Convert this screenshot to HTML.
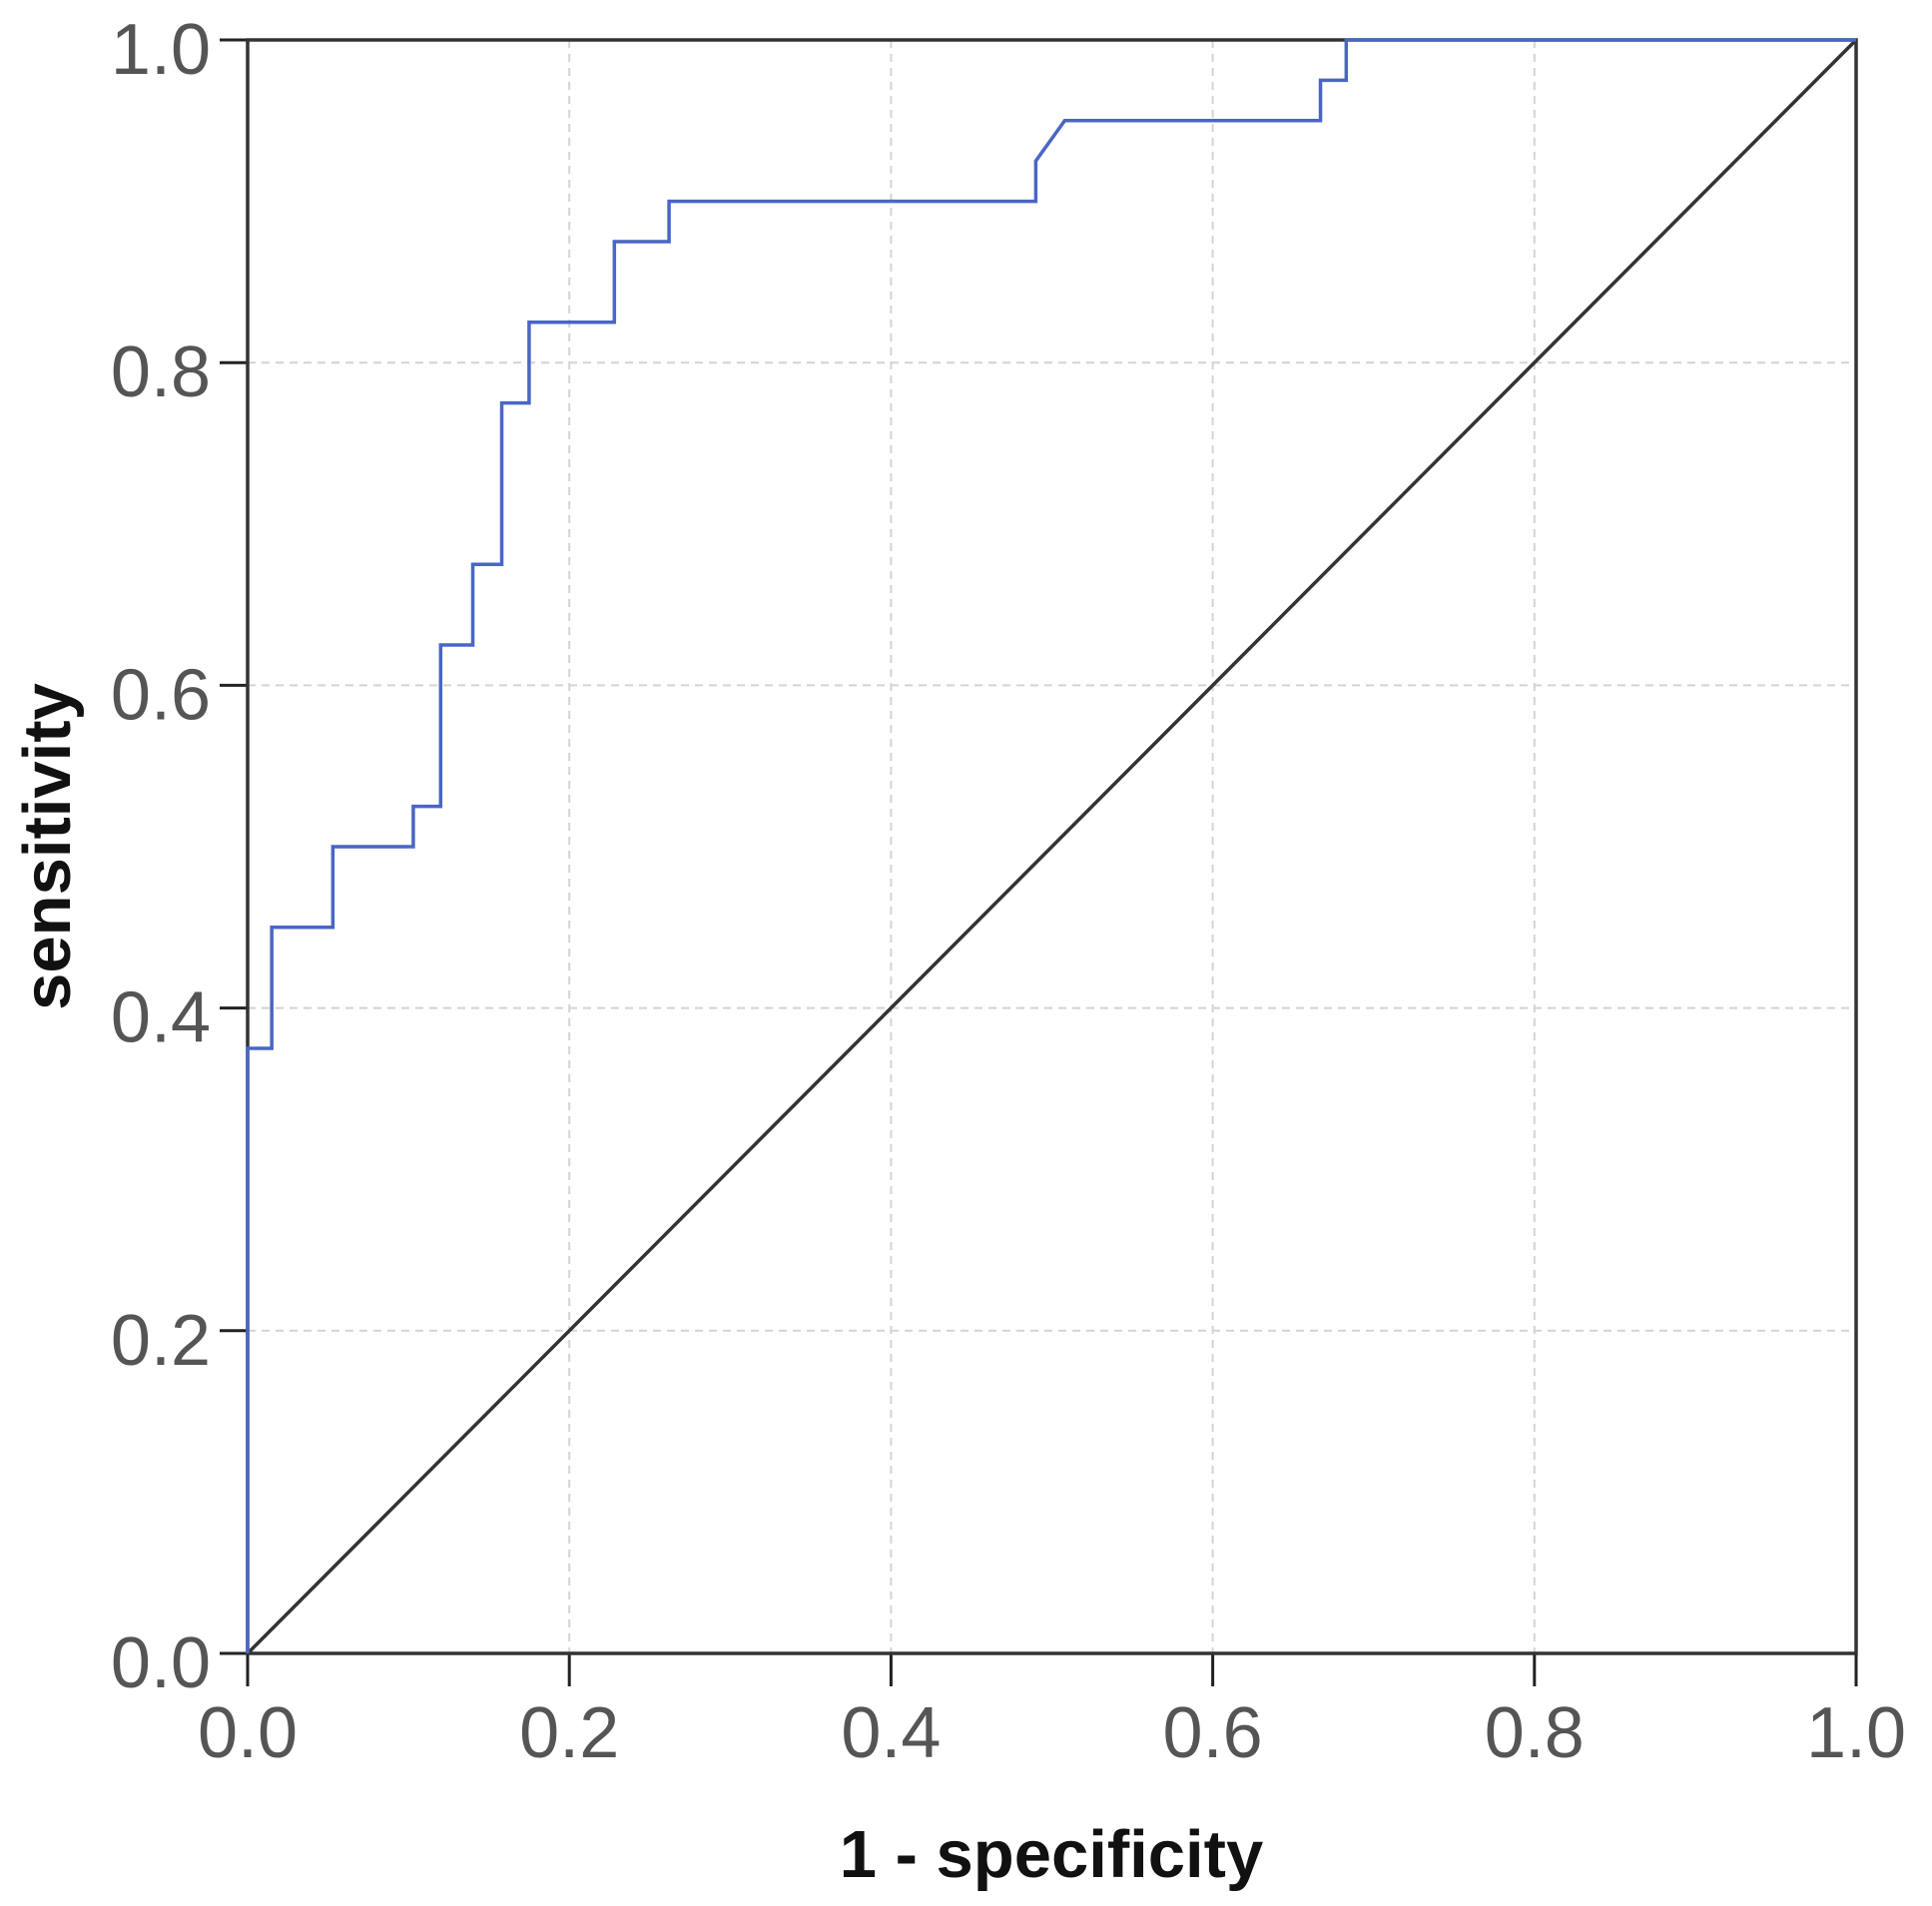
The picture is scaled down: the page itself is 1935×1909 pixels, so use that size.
<!DOCTYPE html>
<html><head><meta charset="utf-8"><style>
html,body{margin:0;padding:0;background:#fff;}
svg{display:block;}
</style></head><body>
<svg id="chart" width="1935" height="1909" viewBox="0 0 1935 1909" xmlns="http://www.w3.org/2000/svg" font-family="'Liberation Sans', sans-serif">
<g id="grid"></g>
<g id="axes"></g>
<g id="series"></g>
<text x="1053" y="1880" text-anchor="middle" font-size="67" font-weight="bold" fill="#111">1 - specificity</text>
<text transform="translate(70,848) rotate(-90)" text-anchor="middle" font-size="67" font-weight="bold" fill="#111">sensitivity</text>
</svg>
<script>
const xTicks = [0, 0.2, 0.4, 0.6, 0.8, 1.0];
const yTicks = [0, 0.2, 0.4, 0.6, 0.8, 1.0];
const tickLabels = ["0.0","0.2","0.4","0.6","0.8","1.0"];
const rocFpr = [0,0,0.015,0.015,0.053,0.053,0.103,0.103,0.12,0.12,0.14,0.14,0.158,0.158,0.175,0.175,0.228,0.228,0.262,0.262,0.49,0.49,0.508,0.667,0.667,0.683,0.683,1.0];
const rocTpr = [0,0.375,0.375,0.45,0.45,0.5,0.5,0.525,0.525,0.625,0.625,0.675,0.675,0.775,0.775,0.825,0.825,0.875,0.875,0.9,0.9,0.925,0.95,0.95,0.975,0.975,1.0,1.0];
const refX = [0,1];
const refY = [0,1];

const X0=248, X1=1859, Y0=1656, Y1=40;
function sx(v){return X0+(X1-X0)*v;}
function sy(v){return Y0-(Y0-Y1)*v;}
const NS="http://www.w3.org/2000/svg";
function mk(tag, attrs, parent){const e=document.createElementNS(NS,tag);for(const k in attrs)e.setAttribute(k,attrs[k]);parent.appendChild(e);return e;}
const grid=document.getElementById('grid'), axes=document.getElementById('axes'), series=document.getElementById('series');

xTicks.forEach((v,i)=>{
  if(v>0&&v<1){
    const g=mk('line',{x1:sx(v),x2:sx(v),y1:Y1,y2:Y0,stroke:'#d4d4d4','stroke-width':2,'stroke-dasharray':'8,6'},grid);
    
    
  }
  const t=mk('line',{x1:sx(v),x2:sx(v),y1:Y0,y2:Y0+33,stroke:'#222','stroke-width':3},axes);
  
  
  const l=mk('text',{x:sx(v),y:1760,'text-anchor':'middle','font-size':72,fill:'#555'},axes);
  l.textContent=tickLabels[i];
  
  
});
yTicks.forEach((v,i)=>{
  if(v>0&&v<1){
    const g=mk('line',{x1:X0,x2:X1,y1:sy(v),y2:sy(v),stroke:'#d4d4d4','stroke-width':2,'stroke-dasharray':'8,6'},grid);
    
    
  }
  const t=mk('line',{x1:X0-28,x2:X0,y1:sy(v),y2:sy(v),stroke:'#222','stroke-width':3},axes);
  
  
  const l=mk('text',{x:211,y:sy(v)+34,'text-anchor':'end','font-size':72,fill:'#555'},axes);
  l.textContent=tickLabels[i];
  
  
});
const frame=mk('path',{d:`M${X0},${Y0}L${X0},${Y1}L${X1},${Y1}L${X1},${Y0}Z`,fill:'none',stroke:'#333','stroke-width':3.5},axes);



const ref=mk('polyline',{points:refX.map((x,i)=>sx(x)+','+sy(refY[i])).join(' '),fill:'none',stroke:'#333','stroke-width':3.5},series);


const roc=mk('polyline',{points:rocFpr.map((x,i)=>sx(x)+','+sy(rocTpr[i])).join(' '),fill:'none',stroke:'#4a66c4','stroke-width':3.5},series);


</script>
</body></html>
